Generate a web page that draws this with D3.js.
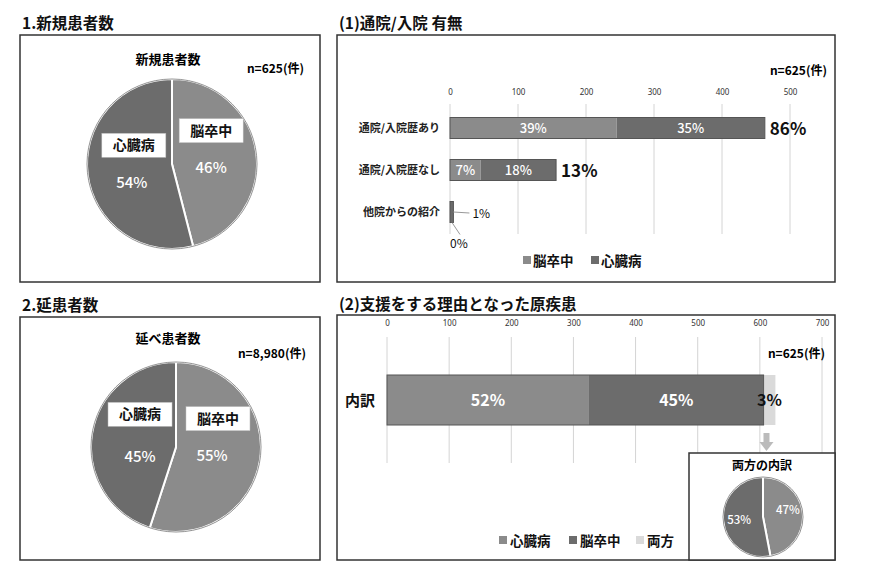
<!DOCTYPE html>
<html>
<head>
<meta charset="utf-8">
<script src="https://cdn.jsdelivr.net/npm/d3@7"></script>
<style>
  body { margin: 0; background: #fff; }
  svg { font-family: "Noto Sans CJK JP", "Noto Sans", sans-serif; }
</style>
</head>
<body>
<svg id="chart" width="890" height="570"></svg>
<script>
// pie data
const pieCats = ["脳卒中", "心臓病"];
const newPatients = [46, 54];
const totalPatients = [55, 45];
const bothCats = ["脳卒中", "心臓病"];
const bothShares = [47, 53];

// (1) visits bar data
const visitCats = ["通院/入院歴あり", "通院/入院歴なし", "他院からの紹介"];
const visitStroke = [245, 45, 0];
const visitHeart = [218, 111, 5];
const visitStrokeLbl = ["39%", "7%", ""];
const visitHeartLbl = ["35%", "18%", ""];
const visitTotalLbl = ["86%", "13%", "1%"];
const visitTicks = [0, 100, 200, 300, 400, 500];

// (2) reason bar data
const reasonCats = ["内訳"];
const reasonSeries = ["心臓病", "脳卒中", "両方"];
const reasonValues = [325, 281, 19];
const reasonLbl = ["52%", "45%", "3%"];
const reasonTicks = [0, 100, 200, 300, 400, 500, 600, 700];

const light = "#8b8b8b", dark = "#6c6c6c", pale = "#dadada";

const svg = d3.select("#chart");

// panel frames and headings
function panel(x, y, w, h, title, ty) {
  svg.append("rect").attr("x", x).attr("y", y).attr("width", w).attr("height", h)
    .attr("fill", "none").attr("stroke", "#333").attr("stroke-width", 1.5);
  svg.append("text").attr("x", x + 2).attr("y", ty)
    .attr("font-size", 15.5).attr("font-weight", "bold").attr("fill", "#111").text(title);
}
panel(20, 35, 300, 247, "1.新規患者数", 29);
panel(337, 35, 498, 247, "(1)通院/入院 有無", 29);
panel(20, 317, 300, 243, "2.延患者数", 311);
panel(337, 315, 498, 245, "(2)支援をする理由となった原疾患", 310);

// pies
function drawPie(cx, cy, r, values, cats, colors, opts) {
  const g = svg.append("g").attr("transform", `translate(${cx},${cy})`);
  const arcs = d3.pie().sort(null)(values);
  const arc = d3.arc().innerRadius(0).outerRadius(r);
  g.selectAll("path").data(arcs).join("path")
    .attr("d", arc)
    .attr("fill", (d, i) => colors[i])
    .attr("stroke", "#fff").attr("stroke-width", 2);
  g.append("circle").attr("r", r).attr("fill", "none").attr("stroke", "#777").attr("stroke-width", 0.8);
  const lab = d3.arc().innerRadius(r * opts.lr).outerRadius(r * opts.lr);
  arcs.forEach((d, i) => {
    const [px, py] = lab.centroid(d);
    if (opts.boxes) {
      const bx = px + opts.boxDx[i], by = py + opts.boxDy[i];
      g.append("rect").attr("x", bx - 32).attr("y", by - 12).attr("width", 64).attr("height", 24)
        .attr("fill", "#fff").attr("stroke", "#bbb").attr("stroke-width", 0.5);
      g.append("text").attr("x", bx).attr("y", by + 5).attr("text-anchor", "middle")
        .attr("font-size", 14).attr("font-weight", "bold").attr("fill", "#111").text(cats[i]);
    }
    g.append("text").attr("x", px + opts.pctDx[i]).attr("y", py + opts.pctDy[i])
      .attr("text-anchor", "middle").attr("font-size", opts.pctSize).attr("font-weight", 500)
      .attr("fill", "#fff").text(values[i] + "%");
  });
}

svg.append("text").attr("x", 168).attr("y", 64).attr("text-anchor", "middle")
  .attr("font-size", 13).attr("font-weight", "bold").text("新規患者数");
svg.append("text").attr("x", 304).attr("y", 73).attr("text-anchor", "end")
  .attr("font-size", 12).attr("font-weight", "bold").text("n=625(件)");
drawPie(172, 164, 85, newPatients, pieCats, [light, dark],
  { lr: 0.5, boxes: true, boxDx: [-3, 4], boxDy: [-28, -24], pctDx: [-3, 2], pctDy: [14, 19], pctSize: 15 });

svg.append("text").attr("x", 168).attr("y", 343).attr("text-anchor", "middle")
  .attr("font-size", 13).attr("font-weight", "bold").text("延べ患者数");
svg.append("text").attr("x", 306).attr("y", 358).attr("text-anchor", "end")
  .attr("font-size", 12).attr("font-weight", "bold").text("n=8,980(件)");
drawPie(176, 447, 85, totalPatients, pieCats, [light, dark],
  { lr: 0.5, boxes: true, boxDx: [0, 6], boxDy: [-35, -26], pctDx: [-6, 6], pctDy: [7, 22], pctSize: 15 });

// (1) horizontal stacked bars
{
  const x = d3.scaleLinear().domain([0, 500]).range([450, 790]);
  const y = d3.scaleBand().domain(visitCats).range([107, 233]).paddingInner(0.5).paddingOuter(0.25);
  const g = svg.append("g");
  g.selectAll(".grid").data(visitTicks).join("line")
    .attr("x1", d => x(d)).attr("x2", d => x(d)).attr("y1", 104).attr("y2", 234)
    .attr("stroke", "#d4d4d4");
  const ax = g.append("g").attr("transform", "translate(0,97)")
    .call(d3.axisTop(x).tickValues(visitTicks).tickSize(0).tickPadding(2));
  ax.select(".domain").remove();
  ax.selectAll("text").attr("font-size", 8).attr("fill", "#333").attr("font-family", "Noto Sans");

  svg.append("text").attr("x", 827).attr("y", 75).attr("text-anchor", "end")
    .attr("font-size", 12).attr("font-weight", "bold").text("n=625(件)");

  visitCats.forEach((c, i) => {
    const y0 = y(c), bh = y.bandwidth();
    const s = visitStroke[i], h = visitHeart[i];
    g.append("rect").attr("x", x(0)).attr("y", y0).attr("width", x(s) - x(0)).attr("height", bh)
      .attr("fill", light);
    g.append("rect").attr("x", x(s)).attr("y", y0).attr("width", x(s + h) - x(s)).attr("height", bh)
      .attr("fill", dark);
    g.append("rect").attr("x", x(0)).attr("y", y0).attr("width", x(s + h) - x(0)).attr("height", bh)
      .attr("fill", "none").attr("stroke", "#555").attr("stroke-width", 1);
    g.append("text").attr("x", 440).attr("y", y0 + bh / 2 + 4).attr("text-anchor", "end")
      .attr("font-size", 11).attr("font-weight", "bold").attr("fill", "#222").text(c);
    if (visitStrokeLbl[i]) g.append("text").attr("x", (x(0) + x(s)) / 2).attr("y", y0 + bh / 2 + 5)
      .attr("text-anchor", "middle").attr("font-size", 13).attr("font-weight", 500)
      .attr("fill", "#fff").text(visitStrokeLbl[i]);
    if (visitHeartLbl[i]) g.append("text").attr("x", (x(s) + x(s + h)) / 2).attr("y", y0 + bh / 2 + 5)
      .attr("text-anchor", "middle").attr("font-size", 13).attr("font-weight", 500)
      .attr("fill", "#fff").text(visitHeartLbl[i]);
    if (i < 2) {
      g.append("text").attr("x", x(s + h) + 5).attr("y", y0 + bh / 2 + 7)
        .attr("font-size", 17).attr("font-weight", "bold").attr("fill", "#111").text(visitTotalLbl[i]);
    } else {
      g.append("line").attr("x1", x(s + h)).attr("y1", y0 + bh / 2).attr("x2", x(s + h) + 16).attr("y2", y0 + bh / 2 + 1)
        .attr("stroke", "#999");
      g.append("text").attr("x", x(s + h) + 19).attr("y", y0 + bh / 2 + 6)
        .attr("font-size", 12).attr("fill", "#111").text(visitTotalLbl[i]);
      g.append("line").attr("x1", x(0) + 2).attr("y1", y0 + bh).attr("x2", x(0) + 10).attr("y2", y0 + bh + 12)
        .attr("stroke", "#999");
      g.append("text").attr("x", x(0)).attr("y", y0 + bh + 25)
        .attr("font-size", 12).attr("fill", "#111").text("0%");
    }
  });

  // legend
  const lg = [["脳卒中", light, 523], ["心臓病", dark, 591]];
  lg.forEach(([t, c, lx]) => {
    svg.append("rect").attr("x", lx).attr("y", 256).attr("width", 8).attr("height", 8).attr("fill", c);
    svg.append("text").attr("x", lx + 10).attr("y", 266).attr("font-size", 13.5)
      .attr("font-weight", "bold").attr("fill", "#111").text(t);
  });
}

// (2) reason bar
{
  const x = d3.scaleLinear().domain([0, 700]).range([387, 822]);
  const y = d3.scaleBand().domain(reasonCats).range([375, 425]);
  const g = svg.append("g");
  g.selectAll(".grid").data(reasonTicks).join("line")
    .attr("x1", d => x(d)).attr("x2", d => x(d)).attr("y1", 337).attr("y2", 463)
    .attr("stroke", "#d4d4d4");
  const ax = g.append("g").attr("transform", "translate(0,328)")
    .call(d3.axisTop(x).tickValues(reasonTicks).tickSize(0).tickPadding(2));
  ax.select(".domain").remove();
  ax.selectAll("text").attr("font-size", 8).attr("fill", "#333").attr("font-family", "Noto Sans");

  svg.append("text").attr("x", 825).attr("y", 358).attr("text-anchor", "end")
    .attr("font-size", 12).attr("font-weight", "bold").text("n=625(件)");

  const colors = [light, dark, pale];
  const y0 = y("内訳"), bh = y.bandwidth();
  let acc = 0;
  const segs = reasonValues.map((v, i) => { const s = { a: acc, b: acc + v, i }; acc += v; return s; });
  g.selectAll(".seg").data(segs).join("rect")
    .attr("x", d => x(d.a)).attr("y", y0).attr("width", d => x(d.b) - x(d.a)).attr("height", bh)
    .attr("fill", d => colors[d.i]);
  g.append("rect").attr("x", x(0)).attr("y", y0).attr("width", x(segs[1].b) - x(0)).attr("height", bh)
    .attr("fill", "none").attr("stroke", "#555").attr("stroke-width", 1);
  segs.forEach(d => {
    g.append("text").attr("x", (x(d.a) + x(d.b)) / 2).attr("y", y0 + bh / 2 + 6)
      .attr("text-anchor", "middle").attr("font-size", 16).attr("font-weight", "bold")
      .attr("fill", d.i < 2 ? "#fff" : "#111").text(reasonLbl[d.i]);
  });
  svg.append("text").attr("x", 345).attr("y", 406).attr("font-size", 15)
    .attr("font-weight", "bold").attr("fill", "#111").text("内訳");

  // arrow to inset
  const axp = (x(segs[2].a) + x(segs[2].b)) / 2 - 3;
  svg.append("rect").attr("x", axp - 3).attr("y", 433).attr("width", 6).attr("height", 9).attr("fill", "#bbb");
  svg.append("path").attr("d", `M${axp - 7},442 L${axp + 7},442 L${axp},451 Z`).attr("fill", "#bbb");

  // inset
  svg.append("rect").attr("x", 689).attr("y", 453).attr("width", 146).attr("height", 107)
    .attr("fill", "#fff").attr("stroke", "#333").attr("stroke-width", 1.5);
  svg.append("text").attr("x", 762).attr("y", 470).attr("text-anchor", "middle")
    .attr("font-size", 12).attr("font-weight", "bold").text("両方の内訳");
  drawPie(763, 517, 40, bothShares, bothCats, [light, dark],
    { lr: 0.55, boxes: false, pctDx: [3, -2], pctDy: [-1, 5], pctSize: 11.5 });

  // legend
  const lg = [["心臓病", light, 499], ["脳卒中", dark, 569], ["両方", pale, 636]];
  lg.forEach(([t, c, lx]) => {
    svg.append("rect").attr("x", lx).attr("y", 536).attr("width", 8).attr("height", 8).attr("fill", c);
    svg.append("text").attr("x", lx + 11).attr("y", 546).attr("font-size", 13.5)
      .attr("font-weight", "bold").attr("fill", "#111").text(t);
  });
}
</script>
</body>
</html>
